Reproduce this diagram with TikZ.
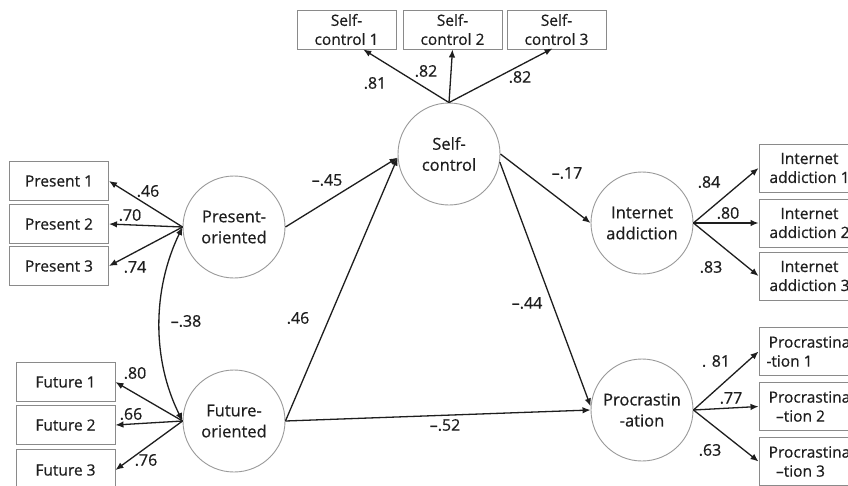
\documentclass[tikz,border=0pt]{standalone}
\usepackage{fontspec}
\setmainfont{Open Sans}[FakeBold=0.6]
\usetikzlibrary{arrows.meta,calc}
\definecolor{bordergray}{HTML}{8A8A8A}
\definecolor{circgray}{HTML}{9A9A9A}
\definecolor{ink}{HTML}{1E1E1E}
\begin{document}
\begin{tikzpicture}[x=1pt,y=-1pt,
  lat/.style={circle,draw=circgray,line width=0.9pt,minimum size=102pt,inner sep=0pt,align=center,text=ink,font=\fontsize{16.5}{21}\selectfont},
  obs/.style={rectangle,draw=bordergray,line width=0.9pt,minimum width=99pt,minimum height=39pt,inner sep=0pt,align=center,text=ink,font=\fontsize{15.5}{19}\selectfont},
  obsr/.style={obs,minimum width=101pt,minimum height=48pt},
  pth/.style={draw=ink,line width=1.3pt,-{Latex[length=8pt,width=6.5pt]}},
  cov/.style={draw=ink,line width=1.3pt,{Latex[length=8pt,width=6.5pt]}-{Latex[length=8pt,width=6.5pt]}},
  lbl/.style={font=\fontsize{16}{18}\selectfont,inner sep=0pt,text=ink}]
\useasboundingbox (0,0) rectangle (848,485);
\clip (0,0) rectangle (848,485);
\fill[white] (0,0) rectangle (848,485);

% latent variables
\node[lat] (PO) at (234,227) {Present-\\oriented};
\node[lat] (FO) at (234,421) {Future-\\oriented};
\node[lat] (SC) at (449,154) {Self-\\control};
\node[lat] (IA) at (642,223) {Internet\\addiction};
\node[lat] (PR) at (642,410) {Procrastin\\-ation};

% indicators
\node[obs] (P1) at (59,181) {Present 1};
\node[obs] (P2) at (59,224) {Present 2};
\node[obs] (P3) at (59,266) {Present 3};
\node[obs] (F1) at (65.5,382) {Future 1};
\node[obs] (F2) at (65.5,425) {Future 2};
\node[obs,minimum height=42pt] (F3) at (65.5,470) {Future 3};
\node[obs] (S1) at (346.5,29.5) {Self-\\control 1};
\node[obs] (S2) at (452.5,29.5) {Self-\\control 2};
\node[obs] (S3) at (556.5,29.5) {Self-\\control 3};
\node[obsr] (I1) at (809.5,168) {Internet\\addiction 1};
\node[obsr] (I2) at (809.5,223) {Internet\\addiction 2};
\node[obsr] (I3) at (809.5,276) {Internet\\addiction 3};
\node[obsr] (R1) at (809.5,351.5) {Procrastina\\-tion 1\hspace*{40pt}};
\node[obsr] (R2) at (809.5,406.5) {Procrastina\\–tion 2\hspace*{18pt}};
\node[obsr] (R3) at (809.5,461.5) {Procrastina\\–tion 3\hspace*{18pt}};

% measurement paths
\draw[pth] (PO.west) -- (P1.east);
\draw[pth] (PO.west) -- (P2.east);
\draw[pth] (PO.west) -- (P3.east);
\draw[pth] (FO.west) -- (F1.east);
\draw[pth] (FO.west) -- (F2.east);
\draw[pth] (FO.west) -- (F3.east);
\draw[pth] (SC.north) -- (S1.-50);
\draw[pth] (SC.north) -- (S2.south);
\draw[pth] (SC.north) -- ($(S3.south)+(-4,-1)$);
\draw[pth] (IA.east) -- (I1.west);
\draw[pth] (IA.east) -- (I2.west);
\draw[pth] (IA.east) -- (I3.west);
\draw[pth] (PR.east) -- (R1.west);
\draw[pth] (PR.east) -- (R2.west);
\draw[pth] (PR.east) -- (R3.west);

% structural paths
\draw[pth] (PO.east) -- (SC.184);
\draw[pth] (FO.east) -- (SC.184);
\draw[pth] (FO.east) -- (PR.west);
\draw[pth] (SC.east) -- (IA.west);
\draw[pth] (SC.-9) -- (PR.176);
\draw[cov] (PO.west) .. controls (152,290) and (152,360) .. (FO.west);

% labels
\node[lbl] (l1) at (148,191) {.46};
\node[lbl] (l2) at (130,215) {.70};
\node[lbl] (l3) at (135,267) {.74};
\node[lbl] (l4) at (186,321) {–.38};
\node[lbl] (l5) at (135,373) {.80};
\node[lbl] (l6) at (131,414) {.66};
\node[lbl] (l7) at (146,460) {.76};
\node[lbl] (l8) at (375,83) {.81};
\node[lbl] (l9) at (426,71) {.82};
\node[lbl] (l10) at (520,77) {.82};
\node[lbl] (l11) at (327,180) {–.45};
\node[lbl] (l12) at (298,318) {.46};
\node[lbl] (l13) at (445,425) {–.52};
\node[lbl] (l14) at (567,173) {–.17};
\node[lbl] (l15) at (527,303) {–.44};
\node[lbl] (l16) at (709,182) {.84};
\node[lbl] (l17) at (728,213) {.80};
\node[lbl] (l18) at (711,267) {.83};
\node[lbl] (l19) at (716,361) {. 81};
\node[lbl] (l20) at (731,398) {.77};
\node[lbl] (l21) at (710,450) {.63};
\end{tikzpicture}
\end{document}
